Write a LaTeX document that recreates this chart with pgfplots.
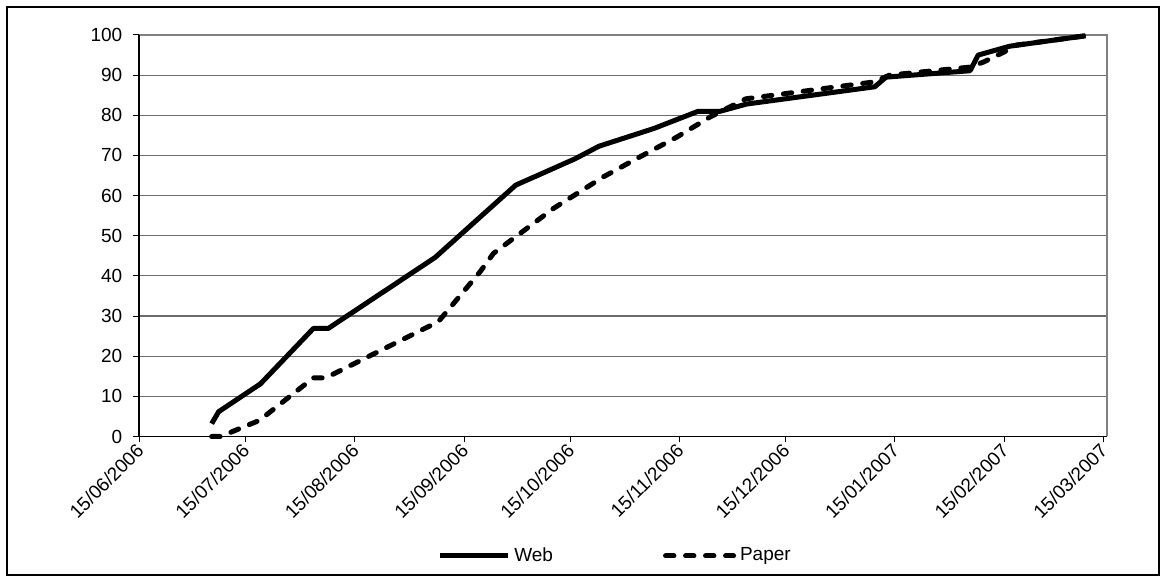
\documentclass[border=0pt]{standalone}
\usepackage{pgfplots}
\usepackage{pgfplotstable}
\pgfplotsset{compat=1.18}
\usepackage{fontspec}
\setmainfont{Liberation Sans}

% day number counted from 15/06/2006
\pgfplotstableread{
day val
20.5 3.2
22.5 6.2
34.3 13.1
49.3 26.9
53.5 26.9
83.8 44.6
106.6 62.6
123.5 69.2
130.2 72.3
145.7 76.7
158.3 81.0
164.5 81.0
172.0 82.8
208.3 87.1
211.5 89.5
235.3 91.1
237.6 95.0
246.5 97.2
268.0 99.8
}\webdata

\pgfplotstableread{
day val
20.5 0.0
23.0 0.0
34.0 4.0
49.3 14.6
52.8 14.6
84.7 28.6
96.5 41.0
100.3 45.6
117.3 56.8
131.5 64.7
141.9 69.7
152.3 74.6
161.7 79.6
171.8 84.1
208.0 88.3
212.5 90.0
235.3 92.0
239.2 93.3
245.0 95.8
248.5 97.5
268.0 99.8
}\paperdata

\begin{document}
\begin{tikzpicture}
\useasboundingbox (-69.65pt,-72.75pt) rectangle (513.35pt,218.25pt);
\draw[line width=1pt] (-66.15pt,-69.25pt) rectangle (509.85pt,214.75pt);
\begin{axis}[
  at={(0pt,0pt)}, anchor=origin,
  scale only axis,
  width=483.7pt, height=200.75pt,
  xmin=0, xmax=274, ymin=0, ymax=100,
  axis line style={draw=none},
  ytick={0,10,...,100},
  xtick={0,30,61,92,122,153,183,214,245,273},
  xticklabels={15/06/2006,15/07/2006,15/08/2006,15/09/2006,15/10/2006,15/11/2006,15/12/2006,15/01/2007,15/02/2007,15/03/2007},
  xtick pos=bottom, ytick pos=left,
  tick align=outside,
  major tick length=3pt,
  tick style={black, line width=0.5pt},
  ymajorgrids,
  grid style={gray!85!black, line width=0.6pt},
  /pgf/number format/assume math mode=true,
  ticklabel style={font=\fontsize{9.5}{11}\selectfont},
  yticklabel style={xshift=-2pt},
  xticklabel style={rotate=45, anchor=east, xshift=2pt, yshift=-2pt},
  legend style={draw=none, at={(0.4928,-0.2975)}, anchor=center,
    legend columns=2, font=\fontsize{9.5}{11}\selectfont,
    /tikz/every even column/.append style={column sep=53pt}},
  legend image code/.code={\draw[#1] (0pt,0pt) -- (34pt,0pt);},
  clip=false,
]
\draw[gray, line width=1pt] (rel axis cs:0,1) -- (rel axis cs:1,1) -- (rel axis cs:1,0);
\addplot[black, line width=2.5pt, line join=round] table[x=day, y=val] {\webdata};
\addlegendentry{Web}
\addplot[black, line width=2.5pt, line cap=round, line join=round, dash pattern=on 4.2pt off 5.8pt] table[x=day, y=val] {\paperdata};
\addlegendentry{Paper}
\draw[black, line width=0.8pt] (rel axis cs:0,1) -- (rel axis cs:0,0) -- (rel axis cs:1,0);
\end{axis}
\end{tikzpicture}
\end{document}
